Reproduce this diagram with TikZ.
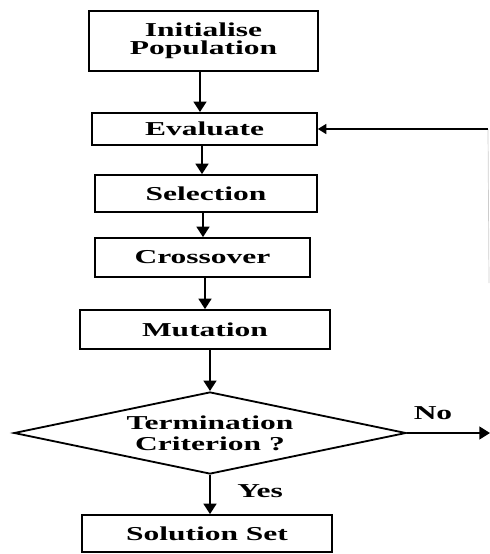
\documentclass[tikz,border=0pt]{standalone}
\usepackage{fontspec}
\newfontfamily\flowfont{Liberation Serif}[FakeStretch=1.6]
\usepackage{tikz}
\usetikzlibrary{arrows.meta,shapes.geometric}

\begin{document}
\begin{tikzpicture}[x=0.025cm, y=-0.025cm,
  box/.style={draw, line width=1.3pt, inner sep=0pt, align=center, font=\flowfont\bfseries\fontsize{14}{13}\selectfont},
  flow/.style={-{Triangle[width=9pt, length=7.5pt]}, line width=2pt},
  label/.style={font=\flowfont\bfseries\fontsize{14}{14}\selectfont}]

\useasboundingbox (0,0) rectangle (490,554);

% process boxes

\node[box, minimum width=5.72cm, minimum height=1.5cm] (init) at (203.5, 41) {Initialise\\Population};
\node[box, minimum width=5.62cm, minimum height=0.8cm] (eval) at (204.5, 129) {Evaluate};
\node[box, minimum width=5.55cm, minimum height=0.92cm] (sel) at (206, 193.5) {Selection};
\node[box, minimum width=5.37cm, minimum height=0.97cm] (cross) at (202.5, 257.5) {Crossover};
\node[box, minimum width=6.25cm, minimum height=0.97cm] (mut) at (205, 329.5) {Mutation};

% decision

\node[draw, line width=1.3pt, diamond, aspect=4.78, inner sep=0pt, minimum width=9.8cm, minimum height=2.05cm, align=center, font=\flowfont\bfseries\fontsize{14}{15}\selectfont] (term) at (210, 433) {Termination\\Criterion ?};

\node[box, minimum width=6.25cm, minimum height=0.92cm] (sol) at (207, 533.5) {Solution Set};

% labels
\node[label] (no) at (433, 413) {No};
\node[label] (yes) at (260, 491) {Yes};

% loop back ends
\coordinate (fbtop) at (488, 129);
\coordinate (fbbot) at (489, 283);
\coordinate (noend) at (490, 433);

% main flow
\draw[flow] (init.south -| 200,0) -- (eval.north -| 200,0);
\draw[flow] (eval.south -| 202,0) -- (sel.north -| 202,0);
\draw[flow] (sel.south -| 203,0) -- (cross.north -| 203,0);
\draw[flow] (cross.south -| 205,0) -- (mut.north -| 205,0);
\draw[flow] (mut.south -| term.north) -- (term.north);
\draw[flow] (term.south) -- (sol.north -| term.south);
\draw[flow, line width=1.3pt] (term.east) -- (noend);

% feedback
\draw[gray!40, line width=0.5pt] (fbbot) -- (fbtop);
\draw[-{Triangle[width=7pt, length=6pt]}, line width=1.4pt] (fbtop) -- (eval.east);

\end{tikzpicture}
\end{document}
